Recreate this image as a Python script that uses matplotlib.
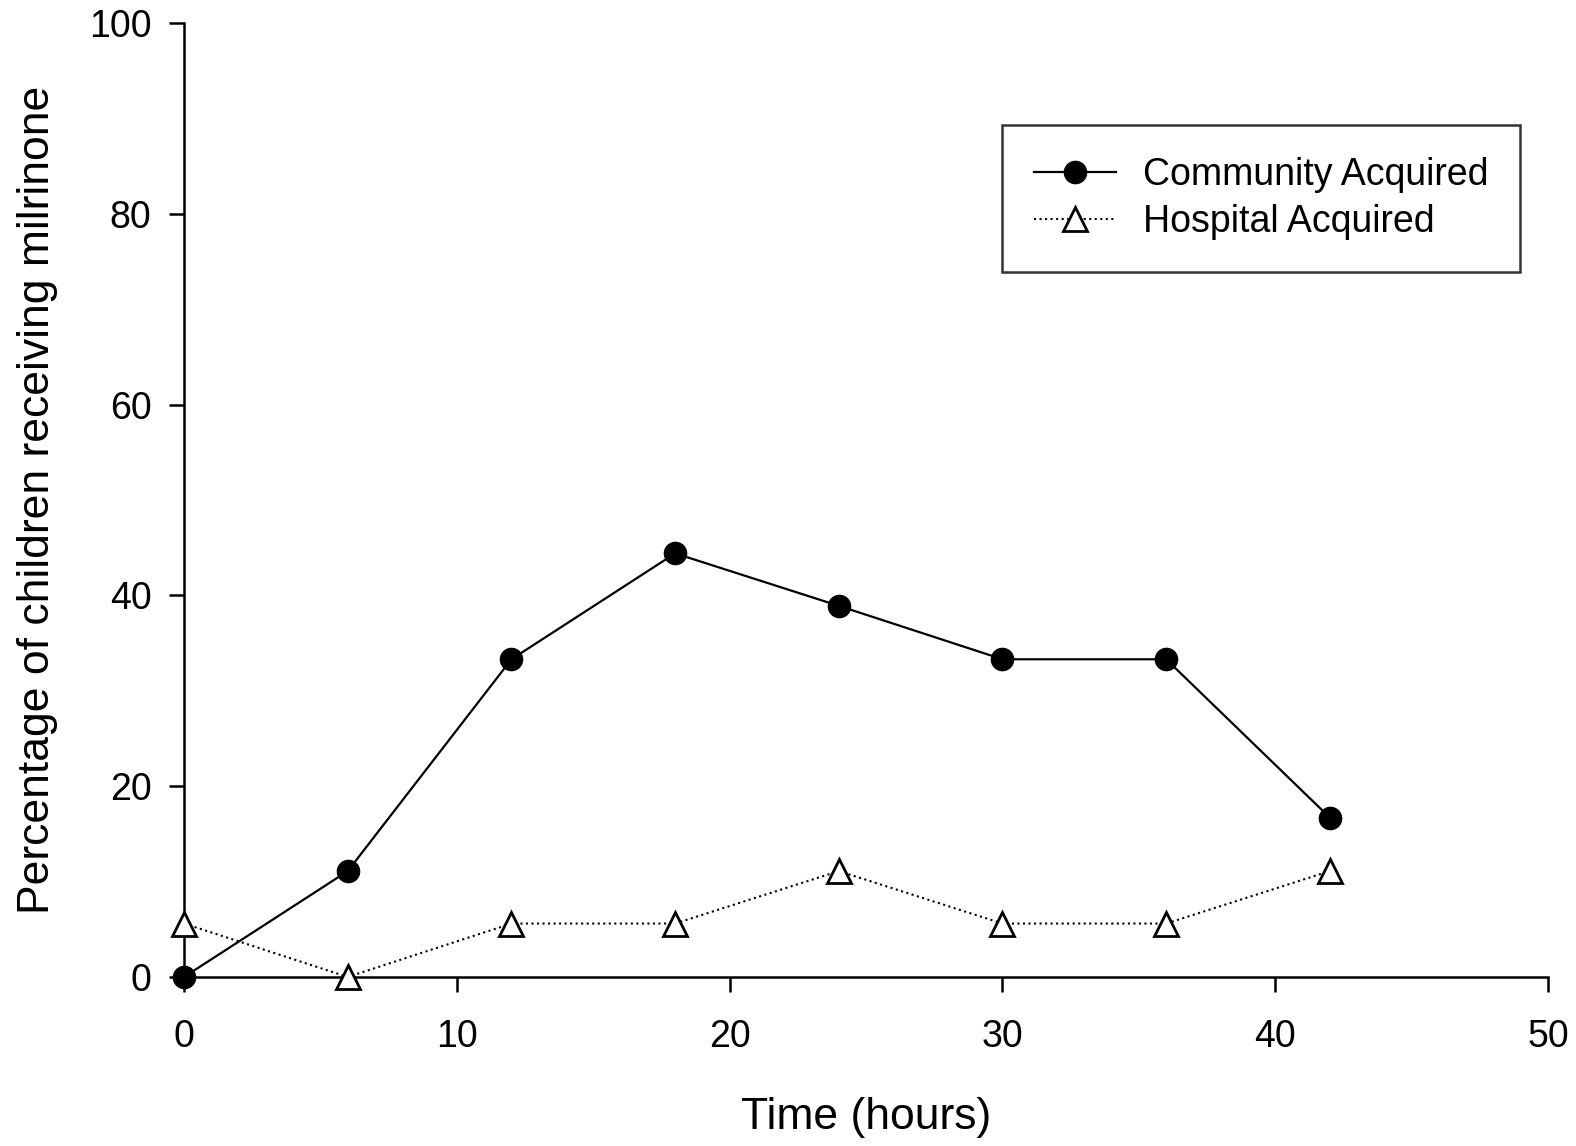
import matplotlib.pyplot as plt

plt.rcParams['font.family'] = ['Liberation Sans', 'DejaVu Sans']

# time points (hours)
hours = [0, 6, 12, 18, 24, 30, 36, 42]
community = [0, 11.1, 33.3, 44.4, 38.9, 33.3, 33.3, 16.7]
hospital = [5.6, 0, 5.6, 5.6, 11.1, 5.6, 5.6, 11.1]

x_ticks = [0, 10, 20, 30, 40, 50]
y_ticks = [0, 20, 40, 60, 80, 100]

fig = plt.figure(figsize=(15.76, 11.46), dpi=100)
ax = fig.add_axes([0.1168, 0.1475, 0.8655, 0.8325])

ax.plot(hours, hospital, color='black', linestyle=':', linewidth=1.5,
        marker='^', markersize=17, markerfacecolor='white',
        markeredgecolor='black', markeredgewidth=2, label='Hospital Acquired',
        clip_on=False, zorder=3)
ax.plot(hours, community, color='black', linestyle='-', linewidth=1.6,
        marker='o', markersize=16, markerfacecolor='black',
        markeredgecolor='black', label='Community Acquired',
        clip_on=False, zorder=4)

ax.set_xlim(0, 50)
ax.set_ylim(0, 100)
ax.set_xticks(x_ticks)
ax.set_yticks(y_ticks)
ax.tick_params(direction='out', length=10.5, width=1.8, labelsize=27)
ax.tick_params(axis='y', pad=13)
ax.tick_params(axis='x', pad=20)
for side in ['top', 'right']:
    ax.spines[side].set_visible(False)
for side in ['left', 'bottom']:
    ax.spines[side].set_linewidth(1.8)

ax.set_xlabel('Time (hours)', fontsize=32, labelpad=30)
ax.set_ylabel('Percentage of children receiving milrinone', fontsize=32, labelpad=22)

handles, labels = ax.get_legend_handles_labels()
leg = ax.legend(handles[::-1], labels[::-1], loc='upper left',
                bbox_to_anchor=(0.5997, 0.893), borderaxespad=0,
                fontsize=27, frameon=True, fancybox=False, edgecolor='black',
                handlelength=2.2, handletextpad=0.7, borderpad=0.85,
                labelspacing=0.3)
leg.get_frame().set_linewidth(1.8)

fig.savefig('out.png', dpi=100)
